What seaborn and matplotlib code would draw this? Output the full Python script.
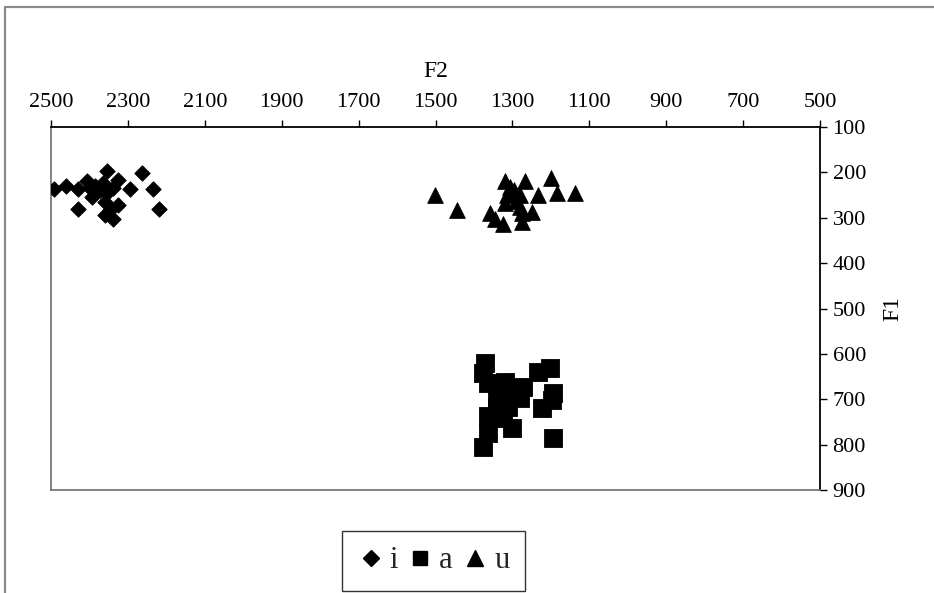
import matplotlib
matplotlib.use("Agg")
import matplotlib.pyplot as plt
import pandas as pd
import seaborn as sns
from matplotlib.lines import Line2D

# Formant measurements (Hz) for the three vowels
i_f2 = [2492, 2461, 2429, 2407, 2355, 2325, 2295, 2264, 2234, 2218, 2429, 2394,
        2386, 2364, 2355, 2360, 2325, 2360, 2340, 2347, 2373, 2338, 2399]
i_f1 = [237, 230, 237, 220, 196, 217, 237, 201, 237, 281, 281, 254,
        231, 224, 246, 265, 272, 294, 303, 283, 239, 235, 235]

a_f2 = [1371, 1376, 1363, 1319, 1272, 1233, 1202, 1194, 1198, 1224, 1194, 1376,
        1363, 1363, 1302, 1324, 1341, 1341, 1315, 1280, 1332, 1324, 1311]
a_f1 = [621, 643, 665, 661, 672, 639, 632, 687, 702, 720, 786, 805,
        775, 738, 764, 742, 716, 694, 687, 698, 727, 672, 716]

u_f2 = [1501, 1443, 1358, 1345, 1325, 1276, 1276, 1250, 1280, 1319, 1315, 1280,
        1233, 1185, 1137, 1200, 1318, 1268, 1295, 1305, 1290]
u_f1 = [250, 284, 290, 303, 314, 309, 290, 287, 276, 268, 250, 250,
        250, 246, 246, 213, 220, 220, 238, 232, 262]

vowels = ["i", "a", "u"]
markers = {"i": "D", "a": "s", "u": "^"}
sizes = {"i": 62, "a": 150, "u": 128}

df = pd.concat([
    pd.DataFrame({"F2": i_f2, "F1": i_f1, "vowel": "i"}),
    pd.DataFrame({"F2": a_f2, "F1": a_f1, "vowel": "a"}),
    pd.DataFrame({"F2": u_f2, "F1": u_f1, "vowel": "u"}),
], ignore_index=True)

sns.set_theme(style="ticks")
plt.rcParams["font.family"] = ["Liberation Serif", "DejaVu Serif"]

W, H = 934, 593
fig = plt.figure(figsize=(W / 100, H / 100), dpi=100)
fig.patch.set_facecolor("white")
ax = fig.add_axes([51 / W, 1 - 490 / H, (820 - 51) / W, (490 - 127) / H])

for v in vowels:
    sub = df[df["vowel"] == v]
    sns.scatterplot(data=sub, x="F2", y="F1", marker=markers[v], s=sizes[v],
                    color="black", edgecolor="black", linewidth=0.6,
                    legend=False, ax=ax, zorder=3)

ax.set_xlim(2500, 500)
ax.set_ylim(900, 100)
ax.set_xticks(list(range(2500, 499, -200)))
ax.set_yticks(list(range(100, 901, 100)))

ax.xaxis.tick_top()
ax.xaxis.set_label_position("top")
ax.yaxis.tick_right()
ax.yaxis.set_label_position("right")
ax.tick_params(axis="x", which="both", top=True, bottom=False, direction="out",
               length=5, width=1, color="black", labelsize=16, pad=6,
               labelcolor="black")
ax.tick_params(axis="y", which="both", right=True, left=False, direction="out",
               length=5, width=1, color="black", labelsize=16, pad=4,
               labelcolor="black")

ax.set_xlabel("F2", fontsize=17, labelpad=11, color="black")
ax.set_ylabel("F1", fontsize=17, labelpad=12, color="black", rotation=90)

for side in ("top", "right"):
    ax.spines[side].set_color("black")
    ax.spines[side].set_linewidth(1.3)
for side in ("left", "bottom"):
    ax.spines[side].set_color("#6e6e6e")
    ax.spines[side].set_linewidth(1.2)

# Outer chart-area border
gray = "#8a8a8a"
fig.add_artist(Line2D([5 / W, 5 / W], [0, 1 - 7 / H], transform=fig.transFigure,
                      color=gray, lw=1.6))
fig.add_artist(Line2D([5 / W, 1], [1 - 7 / H, 1 - 7 / H], transform=fig.transFigure,
                      color=gray, lw=1.6))

handles = [
    Line2D([], [], marker="D", linestyle="none", color="black", markersize=8),
    Line2D([], [], marker="s", linestyle="none", color="black", markersize=10),
    Line2D([], [], marker="^", linestyle="none", color="black", markersize=11),
]
leg = fig.legend(handles, vowels, loc="center", ncol=3,
                 bbox_to_anchor=(433.5 / W, 1 - 561 / H), frameon=True,
                 fancybox=False, fontsize=22, handlelength=0.85,
                 handletextpad=0.2, columnspacing=0.3, borderpad=0.5,
                 borderaxespad=0)
leg.get_frame().set_edgecolor("black")
leg.get_frame().set_linewidth(1.0)

fig.savefig("out.png", dpi=100, facecolor="white")
